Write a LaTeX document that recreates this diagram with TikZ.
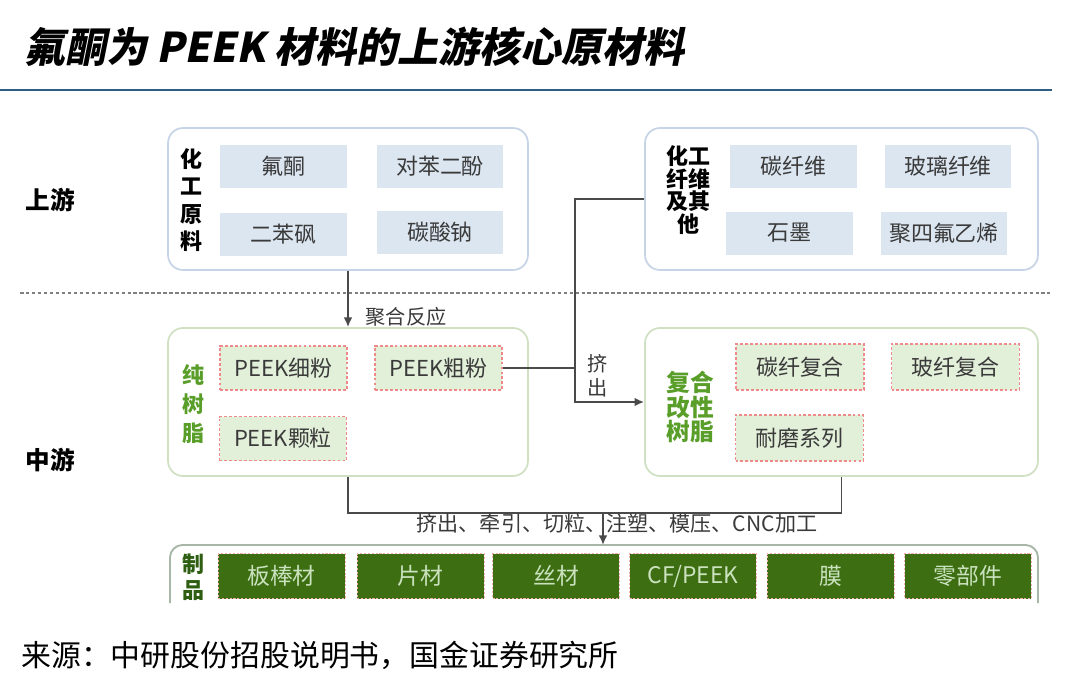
\documentclass[tikz,border=0pt]{standalone}
\usepackage{fontspec}
\setmainfont{Noto Sans CJK SC}
\newfontfamily\titlefont[FakeSlant=0.2]{Noto Sans CJK SC}
\usetikzlibrary{arrows.meta, positioning}

\definecolor{rulebl}{HTML}{2F5E82}
\definecolor{upline}{HTML}{C6D4E6}
\definecolor{midline}{HTML}{CFE0C3}
\definecolor{prodline}{HTML}{A9B7A9}
\definecolor{blfill}{HTML}{DCE6F1}
\definecolor{grfill}{HTML}{E2EFD9}
\definecolor{redash}{HTML}{F08A8A}
\definecolor{grlab}{HTML}{5A9E2A}
\definecolor{dkgreen}{HTML}{2E5E12}
\definecolor{prodfill}{HTML}{3D6F12}
\definecolor{prodtext}{HTML}{CBE2BE}
\definecolor{boxtext}{HTML}{3A3A3A}
\definecolor{connc}{HTML}{4A4A4A}

\begin{document}
\begin{tikzpicture}[x=0.02cm, y=-0.02cm,
    outerup/.style={draw=upline, line width=1pt, rounded corners=0.3cm, minimum height=2.84cm},
    outermid/.style={draw=midline, line width=1pt, rounded corners=0.3cm, minimum height=2.96cm},
    rawbox/.style={fill=blfill, inner sep=0pt, minimum width=2.54cm, minimum height=0.86cm,
        text=boxtext, font=\fontsize{12.5}{14}\selectfont},
    resinbox/.style={fill=grfill, draw=redash, line width=0.7pt, dash pattern=on 1.6pt off 1.2pt,
        inner sep=0pt, minimum width=2.54cm, minimum height=0.88cm,
        text=boxtext, font=\fontsize{12.5}{14}\selectfont},
    prodbox/.style={fill=prodfill, draw=redash!70, line width=0.5pt, dash pattern=on 1.2pt off 1pt,
        inner sep=0pt, minimum width=2.54cm, minimum height=0.9cm,
        text=prodtext, font=\fontsize{13}{15}\selectfont},
    sidelab/.style={align=center, inner sep=0pt, font=\bfseries\fontsize{12.5}{15.6}\selectfont},
    stagelab/.style={inner sep=0pt, font=\bfseries\fontsize{14}{16}\selectfont},
    steplab/.style={inner sep=0pt, text=boxtext, font=\fontsize{11.5}{15}\selectfont},
    conn/.style={draw=connc, line width=1.1pt}]

\useasboundingbox (0,0) rectangle (1080,697);

% Title
\node[anchor=west, inner sep=0pt] (title) at (24,47)
    {\titlefont\bfseries\fontsize{23.3}{27}\selectfont 氟酮为 PEEK 材料的上游核心原材料};
\draw[rulebl, line width=1.7pt] (0,90) -- (1052,90);

% Stages
\node[stagelab] (upstage) at (50,200) {上游};
\node[stagelab] (midstage) at (50,460) {中游};
\draw[gray, line width=0.7pt, dash pattern=on 2pt off 1.4pt] (20,293) -- (1050,293);

% Upstream: chemical raw materials
\node[outerup, minimum width=7.2cm] (up1) at (348,199) {};
\node[sidelab] (chemlab) at (191,200) {化\\工\\原\\料};
\node[rawbox] (fk) at (283.5,166.5) {氟酮};
\node[rawbox] (hq) at (440,166.5) {对苯二酚};
\node[rawbox] (dps) at (283.5,234.5) {二苯砜};
\node[rawbox] (soda) at (440,232.5) {碳酸钠};

% Upstream: fibres and others
\node[outerup, minimum width=7.86cm] (up2) at (841.5,199) {};
\node[sidelab, font=\bfseries\fontsize{12.5}{13}\selectfont] (fiblab) at (688,190) {化工\\纤维\\及其\\他};
\node[rawbox] (cf) at (793.5,166.5) {碳纤维};
\node[rawbox] (gf) at (948,166.5) {玻璃纤维};
\node[rawbox] (gr) at (789.5,233) {石墨};
\node[rawbox] (ptfe) at (944,233) {聚四氟乙烯};

% Midstream: pure resin
\node[outermid, minimum width=7.2cm] (mid1) at (348,402) {};
\node[sidelab, text=grlab, font=\bfseries\fontsize{12.5}{16.5}\selectfont] (purelab) at (193,404) {纯\\树\\脂};
\node[resinbox] (fine) at (283.5,368) {PEEK细粉};
\node[resinbox] (coarse) at (438.5,368) {PEEK粗粉};
\node[resinbox] (pellet) at (283,438.5) {PEEK颗粒};

% Midstream: modified resin
\node[outermid, minimum width=7.86cm] (mid2) at (841.5,402) {};
\node[sidelab, text=grlab, font=\bfseries\fontsize{13.5}{14.2}\selectfont] (modlab) at (690,407) {复合\\改性\\树脂};
\node[resinbox, minimum width=2.56cm, minimum height=0.92cm] (cfc) at (800,367) {碳纤复合};
\node[resinbox, minimum width=2.56cm, minimum height=0.92cm] (gfc) at (955.5,367) {玻纤复合};
\node[resinbox, minimum width=2.56cm, minimum height=0.92cm] (wear) at (799.5,438) {耐磨系列};

% Connectors
\draw[conn, -{Latex[length=5.5pt, width=5pt]}] (up1.south) -- (mid1.north);
\node[steplab] (polylab) at (406,317) {聚合反应};
\coordinate (jx) at (575,199);
\draw[conn, -{Latex[length=5.5pt, width=5pt]}] (up2.west) -- (jx) |- (mid2.west);
\draw[conn] (coarse.east) -- (coarse.east -| jx);
\node[steplab, align=center, font=\fontsize{11.5}{13.5}\selectfont] (extlab) at (598,376) {挤\\出};
\coordinate (merge) at (603,512);
\coordinate (prodtop) at (603,545);
\draw[conn] (mid1.south) -- ++(0,36) -| (mid2.south);
\draw[conn, -{Latex[length=5.5pt, width=5pt]}] (merge) -- (prodtop);
\node[steplab, font=\fontsize{12}{14}\selectfont] (proclab) at (617,523) {挤出、牵引、切粒、注塑、模压、CNC加工};

% Products
\draw[prodline, line width=1.1pt, rounded corners=0.25cm] (170,603) |- (1038,545) -- (1038,603);
\node[sidelab, text=dkgreen, font=\bfseries\fontsize{12.5}{15}\selectfont] (prodlab) at (193,577) {制\\品};
\node[prodbox] (p1) at (281.5,576) {板棒材};
\node[prodbox] (p2) at (420.5,576) {片材};
\node[prodbox] (p3) at (556,576) {丝材};
\node[prodbox] (p4) at (693,576) {CF/PEEK};
\node[prodbox] (p5) at (830.5,576) {膜};
\node[prodbox] (p6) at (968,576) {零部件};

% Source
\node[anchor=west, inner sep=0pt, font=\fontsize{17}{19}\selectfont] (source) at (21,655)
    {来源：中研股份招股说明书，国金证券研究所};
\end{tikzpicture}
\end{document}
